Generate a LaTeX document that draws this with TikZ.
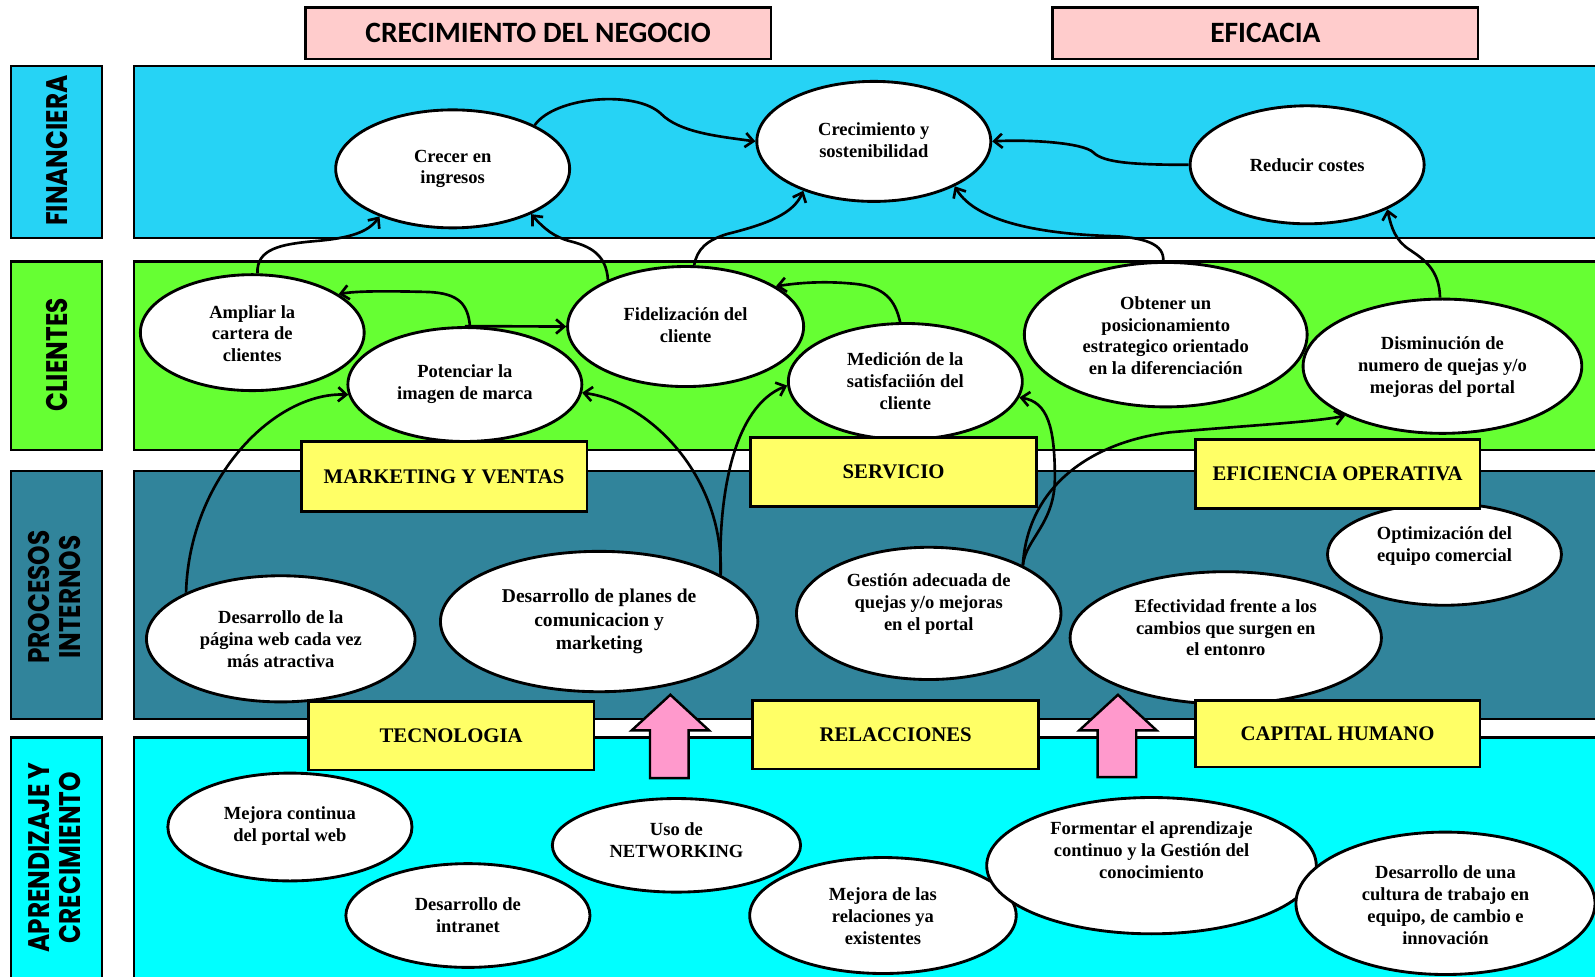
\documentclass[tikz,border=0pt]{standalone}
\usepackage{fontspec}
\setmainfont{Liberation Serif}
\newfontfamily\popfont{Poppins}
\newfontfamily\carfont{Carlito}
\usetikzlibrary{shapes.geometric,arrows.meta}
\definecolor{cfin}{HTML}{26D3F5}
\definecolor{ccli}{HTML}{66FF33}
\definecolor{cpro}{HTML}{31849B}
\definecolor{capr}{HTML}{00FFFF}
\definecolor{cpink}{HTML}{FFCCCC}
\definecolor{cyel}{HTML}{FFFF66}
\definecolor{carrow}{HTML}{FF99CC}
\newcommand\myell[7]{%
  \node[el, minimum width=#4pt, minimum height=#5pt] (#1) at (#2,#3) {};
  \node[tx] (#1-t) at (#2,#6) {#7};}
\begin{document}
\begin{tikzpicture}[x=0.5pt,y=-0.5pt,
  band/.style={draw=black, line width=1.1pt},
  lbl/.style={font=\popfont\bfseries\fontsize{12.2}{14.5}\selectfont, rotate=90, align=center, inner sep=0pt},
  el/.style={ellipse, draw=black, line width=1.4pt, fill=white, inner sep=0pt},
  tx/.style={font=\bfseries\fontsize{9.1}{10.75}\selectfont, align=center, inner sep=0pt},
  ybox/.style={draw=black, line width=1.4pt, fill=cyel, font=\bfseries\fontsize{10.2}{12}\selectfont, inner sep=0pt},
  pbox/.style={draw=black, line width=1.4pt, fill=cpink, font=\carfont\bfseries\fontsize{14.5}{16}\selectfont, inner sep=0pt},
  con/.style={draw=black, line width=1.3pt, -{Straight Barb[length=4pt,width=7pt]}},
  blk/.style={draw=black, line width=1.2pt, fill=carrow}
]
\useasboundingbox (0,0) rectangle (1568,960);
% bands
\path[band, fill=cfin] (11,65) rectangle (100,234);
\path[band, fill=cfin] (132,65) rectangle (1610,234);
\path[band, fill=ccli] (11,257) rectangle (100,442);
\path[band, fill=ccli] (132,257) rectangle (1610,442);
\path[band, fill=cpro] (11,463) rectangle (100,707);
\path[band, fill=cpro] (132,463) rectangle (1610,707);
\path[band, fill=capr] (11,725) rectangle (100,995);
\path[band, fill=capr] (132,725) rectangle (1610,995);
% band labels
\node[lbl] (lfin) at (56,148) {\scalebox{1}[1.2]{FINANCIERA}};
\node[lbl] (lcli) at (56,349) {\scalebox{1}[1.2]{CLIENTES}};
\node[lbl] (lpro) at (57,587) {\scalebox{1}[1.2]{\begin{tabular}{@{}c@{}}PROCESOS\\[-2pt]INTERNOS\end{tabular}}};
\node[lbl] (lapr) at (57,843) {\scalebox{1}[1.2]{\begin{tabular}{@{}c@{}}APRENDIZAJE Y\\[-2pt]CRECIMIENTO\end{tabular}}};
% top boxes
\node[pbox, minimum width=229pt, minimum height=25.5pt] (tcrec) at (529,32.5) {CRECIMIENTO DEL NEGOCIO};
\node[pbox, minimum width=209pt, minimum height=25.5pt] (tefic) at (1244,32.5) {EFICACIA};
% ellipses
\myell{crecer}{445}{166}{115}{58}{166}{Crecer en\\ingresos}
\myell{crecim}{859}{139}{115}{59}{138}{Crecimiento y\\sostenibilidad}
\myell{reducir}{1285}{162}{115}{58}{162}{Reducir costes}
\myell{ampliar}{248}{327}{110}{57}{328}{Ampliar la\\cartera de\\clientes}
\myell{pot}{457}{378}{115}{56}{378}{Potenciar la\\imagen de marca}
\myell{fidel}{674}{321}{116}{59}{320}{Fidelización del\\cliente}
\myell{medic}{890}{375}{115}{57}{375}{Medición de la\\satisfaciión del\\cliente}
\myell{obtener}{1146}{329}{139}{71}{330}{Obtener un\\posicionamiento\\estrategico orientado\\en la diferenciación}
\myell{dismin}{1418}{360}{137}{66}{361}{Disminución de\\numero de quejas y/o\\mejoras del portal}
\myell{pagweb}{276}{628}{132}{62}{628}{Desarrollo de la\\página web cada vez\\más atractiva}
\node[el, minimum width=156pt, minimum height=69pt] (planes) at (589,611) {};
\node[tx, font=\bfseries\fontsize{9.6}{11.5}\selectfont] (planes-t) at (589,611) {Desarrollo de planes de\\comunicacion y\\marketing};
\myell{gestion}{913}{603}{130}{65}{594}{Gestión adecuada de\\quejas y/o mejoras\\en el portal}
\myell{efect}{1205}{627}{153}{65}{617}{Efectividad frente a los\\cambios que surgen en\\el entonro}
\myell{optim}{1420}{545}{115}{50}{537}{Optimización del\\equipo comercial}
\myell{mejcont}{285}{813}{120}{53}{812}{Mejora continua\\del portal web}
\myell{intranet}{460}{900}{120}{51}{900}{Desarrollo de\\intranet}
\myell{network}{665}{831}{122}{46}{826}{Uso de\\NETWORKING}
\myell{mejrel}{868}{900}{131}{57}{901}{Mejora de las\\relaciones ya\\existentes}
\myell{forment}{1132}{851}{162}{67}{836}{Formentar el aprendizaje\\continuo y la Gestión del\\conocimiento}
\myell{cultura}{1421}{888}{147}{70}{890}{Desarrollo de una\\cultura de trabajo en\\equipo, de cambio e\\innovación}
% connectors
\draw[con] (crecer.28) .. controls (545,95) and (625,88) .. (650,112) .. controls (668,130) and (705,134) .. (crecim.west);
\draw[con] (reducir.west) .. controls (1115,162) and (1085,160) .. (1075,150) .. controls (1065,140) and (1010,137) .. (crecim.east);
\draw[con] (ampliar.85) .. controls (252,245) and (275,240) .. (310,237) .. controls (345,234) and (362,228) .. (crecer.213);
\draw[con] (fidel.149) .. controls (596,250) and (580,242) .. (560,237) .. controls (545,233) and (535,225) .. (crecer.330);
\draw[con] (fidel.82) .. controls (685,245) and (695,236) .. (715,230) .. controls (755,220) and (780,210) .. (crecim.215);
\draw[con] (obtener.92) .. controls (1145,240) and (1125,233) .. (1090,232) .. controls (1030,230) and (960,220) .. (crecim.331);
\draw[con] (dismin.92) .. controls (1415,265) and (1400,255) .. (1385,245) .. controls (1372,236) and (1368,225) .. (reducir.331);
\draw[con] (pot.85) .. controls (460,300) and (452,288) .. (420,287) .. controls (380,286) and (350,286) .. (ampliar.24);
\draw[con] (pot.north) -- (fidel.west);
\draw[con] (medic.95) .. controls (880,295) and (870,282) .. (840,279) .. controls (810,276) and (785,278) .. (fidel.24);
\draw[con] (pagweb.154) .. controls (186,470) and (270,385) .. (pot.185);
\draw[con] (planes.21) .. controls (712,470) and (640,395) .. (pot.356);
\draw[con] (planes.21) .. controls (706,490) and (720,400) .. (medic.182);
\draw[con] (gestion.27) .. controls (1008,530) and (1037,515) .. (1037,470) .. controls (1037,420) and (1030,395) .. (medic.352);
\draw[con] (gestion.27) .. controls (1010,480) and (1070,435) .. (1150,425) .. controls (1230,418) and (1290,415) .. (dismin.207);
% yellow boxes
\node[ybox, minimum width=140.5pt, minimum height=34.5pt] (ymark) at (436.5,468.5) {MARKETING Y VENTAS};
\node[ybox, minimum width=140.5pt, minimum height=34pt] (yserv) at (878.5,464) {SERVICIO};
\node[ybox, minimum width=140pt, minimum height=34pt] (yefic) at (1315,466) {EFICIENCIA OPERATIVA};
\node[ybox, minimum width=140.5pt, minimum height=33.5pt] (ytec) at (443.5,723.5) {TECNOLOGIA};
\node[ybox, minimum width=140.5pt, minimum height=33.5pt] (yrel) at (880.5,722.5) {RELACCIONES};
\node[ybox, minimum width=140pt, minimum height=32.5pt] (ycap) at (1315,721.5) {CAPITAL HUMANO};
% block arrows
\draw[blk] (639,765) -- (639,718) -- (621,718) -- (659,683) -- (697,718) -- (677,718) -- (677,765) -- cycle;
\draw[blk] (1079,764) -- (1079,718) -- (1061,718) -- (1099,683) -- (1137,718) -- (1117,718) -- (1117,764) -- cycle;
\end{tikzpicture}
\end{document}
